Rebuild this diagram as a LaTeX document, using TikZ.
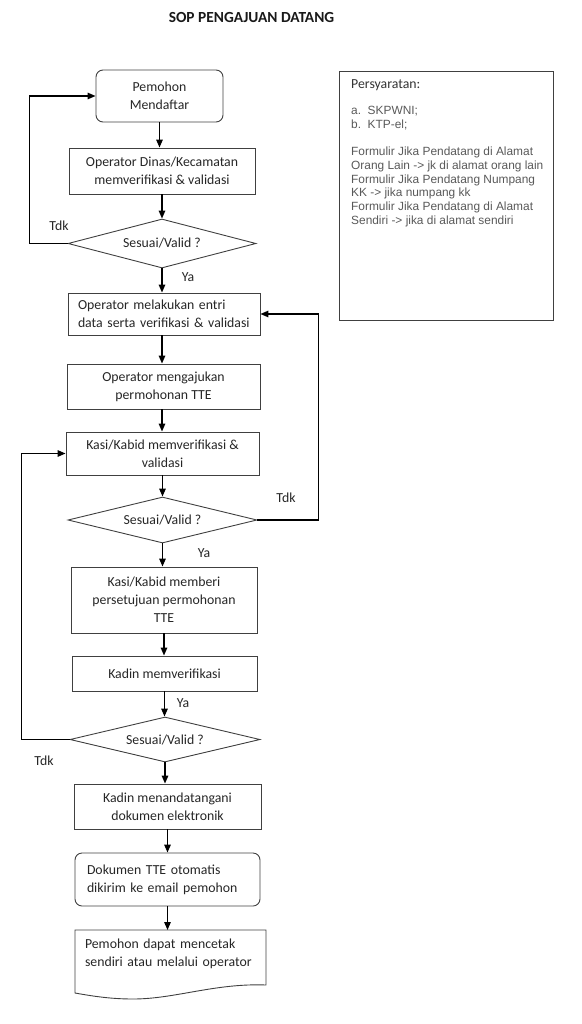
\documentclass[tikz,border=0pt]{standalone}
\usepackage{fontspec}
\setmainfont{Carlito}
\newfontfamily\arialf{Liberation Sans}
\usetikzlibrary{shapes.geometric,arrows.meta}
\newcommand{\bxfont}{\fontsize{13.8}{18}\selectfont}
\newcommand{\ttlfont}{\fontsize{15.4}{18}\selectfont\bfseries}
\newcommand{\reqfont}{\arialf\fontsize{11.9}{13.7}\selectfont}
\begin{document}
\begin{tikzpicture}[x=1pt,y=-1pt,
 box/.style={draw=black!75, line width=0.9pt, rectangle, inner sep=0pt, align=center, text=black!85, font=\bxfont},
 rbox/.style={box, rounded corners=7pt},
 dia/.style={draw=black!75, line width=0.9pt, diamond, aspect=3.8, inner sep=0pt, text=black!85, font=\bxfont},
 arr/.style={line width=1.4pt, -{Triangle[length=8pt,width=6.5pt]}},
 lbl/.style={font=\bxfont, text=black!85, inner sep=0pt},
]
\useasboundingbox (0,0) rectangle (581,1024);

\node[font=\ttlfont, text=black!90, inner sep=0pt] (title) at (251.5,18) {SOP PENGAJUAN DATANG};

\node[rbox, minimum width=127pt, minimum height=52pt] (b1) at (159.5,96) {Pemohon\\Mendaftar};
\node[box, minimum width=186pt, minimum height=46pt] (b2) at (162,171) {Operator Dinas/Kecamatan\\memverifikasi \& validasi};
\node[dia, minimum width=188pt, minimum height=49pt] (d1) at (162,243.5) {Sesuai/Valid ?};
\node[box, minimum width=192pt, minimum height=42pt, text width=172pt, align=left] (b3) at (164,314) {Operator melakukan entri\\data serta verifikasi \& validasi};
\node[box, minimum width=193pt, minimum height=45pt] (b4) at (163.5,386.5) {Operator mengajukan\\permohonan TTE};
\node[box, minimum width=193pt, minimum height=43pt] (b5) at (162.5,453.5) {Kasi/Kabid memverifikasi \&\\validasi};
\node[dia, minimum width=189pt, minimum height=46pt] (d2) at (162.5,520) {Sesuai/Valid ?};
\node[box, minimum width=186pt, minimum height=66pt] (b6) at (164,600) {Kasi/Kabid memberi\\persetujuan permohonan\\TTE};
\node[box, minimum width=185pt, minimum height=35pt] (b7) at (164.5,673.5) {Kadin memverifikasi};
\node[dia, minimum width=190pt, minimum height=45pt] (d3) at (165,739.5) {Sesuai/Valid ?};
\node[box, minimum width=187pt, minimum height=45pt] (b8) at (167.5,806.5) {Kadin menandatangani\\dokumen elektronik};
\node[rbox, minimum width=185pt, minimum height=53pt, text width=161pt, align=left] (b9) at (167.5,879.5) {Dokumen TTE otomatis\\dikirim ke email pemohon};

\draw[draw=black!75, line width=0.9pt] (75,930) -- (266,930) -- (266,985)
  .. controls (215,983) and (175,999) .. (133,999)
  .. controls (110,999) and (92,996) .. (75,993) -- cycle;
\coordinate (b10n) at (167,930);
\node[font=\bxfont, text=black!85, inner sep=0pt, text width=171pt, align=left] (b10) at (170.5,953.5) {Pemohon dapat mencetak\\sendiri atau melalui operator};

% vertical arrows
\draw[arr] (b1.south) -- (b1.south |- b2.north);
\draw[arr] (b2.south) -- (b2.south |- d1.north);
\draw[arr] (d1.south) -- (d1.south |- b3.north);
\draw[arr] (b3.south -| d1.south) -- (d1.south |- b4.north);
\draw[arr] (b4.south -| d1.south) -- (d1.south |- b5.north);
\draw[arr] (b5.south) -- (b5.south |- d2.north);
\draw[arr] (d2.south) -- (d2.south |- b6.north);
\draw[arr] (b6.south) -- (b6.south |- b7.north);
\draw[arr] (b7.south) -- (b7.south |- d3.north);
\draw[arr] (d3.south) -- (d3.south |- b8.north);
\draw[arr] (b8.south) -- (b8.south |- b9.north);
\draw[arr] (b9.south) -- (b9.south |- b10n);

% loops
\draw[arr] (d1.west) -- ++(-38,0) |- (b1.west);
\draw[arr] (d2.east) -- ++(61,0) |- (b3.east);
\draw[arr] (d3.west) -- ++(-48,0) |- (b5.west);

% labels
\node[lbl] (t1) at (59,226) {Tdk};
\node[lbl] (y1) at (188,277) {Ya};
\node[lbl] (t2) at (286,498) {Tdk};
\node[lbl] (y2) at (204,553) {Ya};
\node[lbl] (y3) at (183,703) {Ya};
\node[lbl] (t3) at (44,761) {Tdk};

% requirements box
\node[draw=black!75, line width=0.9pt, minimum width=214pt, minimum height=249pt, inner sep=0pt] (req) at (446,195.5) {};
\node[anchor=west, inner sep=0pt, font=\bxfont, text=black!80] (rq0) at (351,85) {Persyaratan:};
\node[anchor=west, inner sep=0pt, align=left, font=\reqfont, text=black!65] (rq1) at (351,118) {a.\ \ SKPWNI;\\b.\ \ KTP-el;};
\node[anchor=west, inner sep=0pt, align=left, font=\reqfont, text=black!65] (rq2) at (351,187) {Formulir Jika Pendatang di Alamat\\Orang Lain -> jk di alamat orang lain\\Formulir Jika Pendatang Numpang\\KK -> jika numpang kk\\Formulir Jika Pendatang di Alamat\\Sendiri -> jika di alamat sendiri};
\end{tikzpicture}
\end{document}
